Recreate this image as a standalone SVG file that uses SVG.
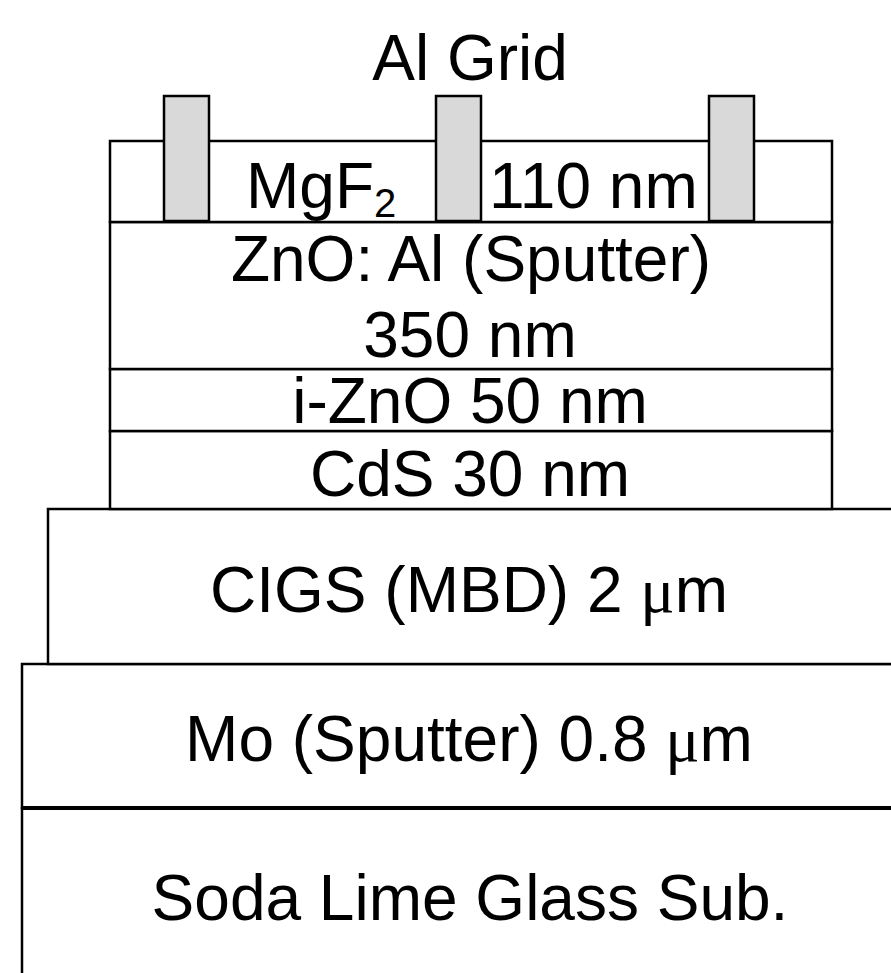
<svg xmlns="http://www.w3.org/2000/svg" width="891" height="973" viewBox="0 0 891 973">
  <style>
    .layer { fill: #ffffff; stroke: #000000; stroke-width: 2.5; }
    .grid { fill: #d9d9d9; stroke: #000000; stroke-width: 2.5; }
    .lbl { font-family: "Liberation Sans", Arial, sans-serif; font-size: 64px; fill: #000000; text-anchor: middle; }
    .mu { font-family: "Liberation Serif", "Times New Roman", serif; }
  </style>
  <rect x="0" y="0" width="891" height="973" fill="#ffffff"/>
  <g id="glass">
    <rect class="layer" x="22" y="808" width="900" height="200"/>
    <line x1="22" y1="808" x2="891" y2="808" stroke="#000" stroke-width="4"/>
    <text class="lbl" x="470" y="920">Soda Lime Glass Sub.</text>
  </g>
  <g id="mo">
    <rect class="layer" x="22" y="664" width="900" height="144"/>
    <line x1="22" y1="808" x2="891" y2="808" stroke="#000" stroke-width="4"/>
    <text class="lbl" x="469" y="761">Mo (Sputter) 0.8 <tspan class="mu">μ</tspan>m</text>
  </g>
  <g id="cigs">
    <rect class="layer" x="48" y="509" width="900" height="155"/>
    <text class="lbl" x="469" y="612">CIGS (MBD) 2 <tspan class="mu">μ</tspan>m</text>
  </g>
  <g id="cds">
    <rect class="layer" x="110" y="431" width="722" height="78"/>
    <text class="lbl" x="470" y="496">CdS 30 nm</text>
  </g>
  <g id="izno">
    <rect class="layer" x="110" y="369" width="722" height="62"/>
    <text class="lbl" x="470" y="423">i-ZnO 50 nm</text>
  </g>
  <g id="znoal">
    <rect class="layer" x="110" y="222" width="722" height="147"/>
    <text class="lbl" x="471" y="281">ZnO: Al (Sputter)</text>
    <text class="lbl" x="470" y="357">350 nm</text>
  </g>
  <g id="mgf2">
    <rect class="layer" x="110" y="141" width="722" height="81"/>
    <text class="lbl" x="246" y="208" style="text-anchor:start">MgF<tspan font-size="40" dy="9">2</tspan></text>
    <text class="lbl" x="489" y="208" style="text-anchor:start">110 nm</text>
  </g>
  <g id="al-grid">
    <rect class="grid" x="164" y="96" width="45" height="125"/>
    <rect class="grid" x="436" y="96" width="45" height="125"/>
    <rect class="grid" x="709" y="96" width="45" height="125"/>
    <text class="lbl" x="470" y="80">Al Grid</text>
  </g>
  <g id="connectors"></g>
</svg>
